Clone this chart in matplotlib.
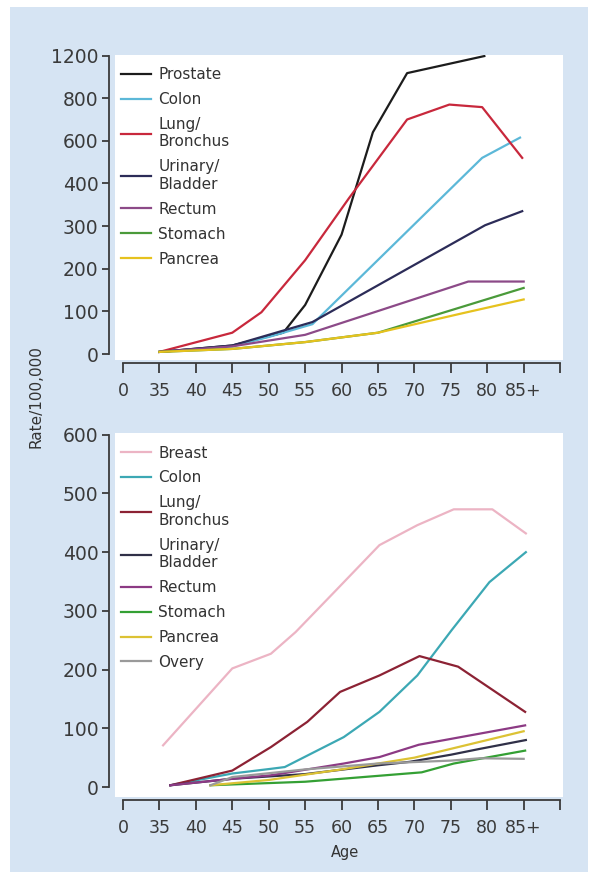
import numpy as np
import matplotlib.pyplot as plt
from matplotlib.patches import Rectangle

plt.rcParams['font.family'] = ['DejaVu Sans']

# ---- data: top panel (men) ----
men_labels = ['Prostate', 'Colon', 'Lung/\nBronchus', 'Urinary/\nBladder', 'Rectum', 'Stomach', 'Pancrea']
men_colors = ['#1c1c1c', '#5cb8d8', '#c8283c', '#2c2c58', '#8c4a88', '#4a9a3a', '#e6c21e']
prostate_age = [35, 45, 52, 55, 60, 64.3, 69, 79.6]
prostate_rate = [5, 20, 50, 115, 280, 640, 1035, 1195]
m_colon_age = [35, 45, 50, 56, 79.3, 84.5]
m_colon_rate = [5, 18, 40, 70, 520, 615]
m_lung_age = [35, 45, 49, 55, 61, 69, 74.8, 79.3, 84.8]
m_lung_rate = [5, 50, 98, 220, 365, 700, 770, 758, 520]
m_bladder_age = [35, 45, 50, 56, 79.7, 84.8]
m_bladder_rate = [5, 20, 45, 75, 302, 335]
m_rectum_age = [35, 45, 55, 77.4, 85]
m_rectum_rate = [5, 18, 45, 170, 170]
m_stomach_age = [35, 45, 55, 65, 85]
m_stomach_rate = [5, 12, 28, 50, 155]
m_pancreas_age = [35, 45, 55, 65, 76.7, 85]
m_pancreas_rate = [5, 12, 28, 50, 96, 128]

# ---- data: bottom panel (women) ----
women_labels = ['Breast', 'Colon', 'Lung/\nBronchus', 'Urinary/\nBladder', 'Rectum', 'Stomach', 'Pancrea', 'Overy']
women_colors = ['#ecb4c4', '#3ca8b4', '#8c2234', '#303048', '#8c3a84', '#34a034', '#dcc234', '#9a9a9a']
breast_age = [35.5, 45, 50.3, 53.7, 59, 65.2, 70.4, 75.4, 80.7, 85.3]
breast_rate = [71, 202, 227, 264, 332, 412, 446, 473, 473, 432]
w_colon_age = [36.5, 45, 50.3, 52.2, 60.3, 65.2, 70.4, 75.1, 80.3, 85.3]
w_colon_rate = [3, 23, 31, 34, 85, 128, 190, 267, 349, 400]
w_lung_age = [36.5, 45, 50.3, 55.3, 59.8, 65.2, 70.7, 76, 85.2]
w_lung_rate = [3, 28, 68, 111, 162, 190, 223, 205, 128]
w_bladder_age = [36.5, 45, 55, 65, 69.4, 75, 79, 85.3]
w_bladder_rate = [3, 14, 22, 37, 43, 55, 65, 80]
w_rectum_age = [36.5, 45, 50.3, 60.3, 65.2, 70.6, 85.2]
w_rectum_rate = [3, 14, 20, 40, 51, 72, 105]
w_stomach_age = [42, 55, 71, 75.4, 85.2]
w_stomach_rate = [3, 9, 25, 40, 62]
w_pancreas_age = [42, 50, 60, 70, 85]
w_pancreas_rate = [3, 12, 30, 50, 95]
ovary_age = [42, 45, 55, 65, 75, 79, 85]
ovary_rate = [3, 17, 30, 40, 45, 49, 48]

age_ticks = [30, 35, 40, 45, 50, 55, 60, 65, 70, 75, 80, 85, 90]
age_ticklabels = ['0', '35', '40', '45', '50', '55', '60', '65', '70', '75', '80', '85+', '']
men_yticks = [0, 100, 200, 300, 400, 600, 800, 1200]
women_yticks = [0, 100, 200, 300, 400, 500, 600]

# uneven scale of the top panel: each tick gets the same space
scale_vals = [-100] + men_yticks + [1600]
scale_pos = list(range(-1, len(men_yticks) + 1))


def fwd(v):
    return np.interp(v, scale_vals, scale_pos)


def inv(p):
    return np.interp(p, scale_pos, scale_vals)


W, H = 595, 876
fig = plt.figure(figsize=(W / 100, H / 100), dpi=100, facecolor='white')
bg = Rectangle((10 / W, 4 / H), 578 / W, 865 / H, transform=fig.transFigure,
               facecolor='#d6e4f3', edgecolor='none', zorder=-10)
fig.patches.append(bg)

ax1 = fig.add_axes([115 / W, 1 - 360 / H, 448 / W, 305 / H])
ax2 = fig.add_axes([115 / W, 1 - 797 / H, 448 / W, 364 / H])

men_series = [(prostate_age, prostate_rate), (m_colon_age, m_colon_rate), (m_lung_age, m_lung_rate),
              (m_bladder_age, m_bladder_rate), (m_rectum_age, m_rectum_rate),
              (m_stomach_age, m_stomach_rate), (m_pancreas_age, m_pancreas_rate)]
women_series = [(breast_age, breast_rate), (w_colon_age, w_colon_rate), (w_lung_age, w_lung_rate),
                (w_bladder_age, w_bladder_rate), (w_rectum_age, w_rectum_rate),
                (w_stomach_age, w_stomach_rate), (w_pancreas_age, w_pancreas_rate),
                (ovary_age, ovary_rate)]

ax1.set_yscale('function', functions=(fwd, inv))
for (a, r), lab, c in zip(men_series, men_labels, men_colors):
    ax1.plot(a, r, color=c, lw=1.6, label=lab)
for (a, r), lab, c in zip(women_series, women_labels, women_colors):
    ax2.plot(a, r, color=c, lw=1.6, label=lab)

ax1.set_ylim(-14, 1205)
ax2.set_ylim(-17, 603)
ax1.set_yticks(men_yticks)
ax1.set_yticklabels([str(v) for v in men_yticks])
ax2.set_yticks(women_yticks)
ax2.set_yticklabels([str(v) for v in women_yticks])

for ax in (ax1, ax2):
    ax.set_facecolor('white')
    ax.set_xlim(28.9, 90.4)
    ax.set_xticks(age_ticks)
    ax.set_xticklabels(age_ticklabels)
    ax.minorticks_off()
    for s in ('top', 'right'):
        ax.spines[s].set_visible(False)
    ax.spines['left'].set_position(('outward', 4))
    ax.spines['bottom'].set_position(('outward', 2.5))
    ax.spines['bottom'].set_bounds(30, 90)
    ax.spines['left'].set_color('#3a3a3a')
    ax.spines['bottom'].set_color('#3a3a3a')
    ax.spines['left'].set_linewidth(1.3)
    ax.spines['bottom'].set_linewidth(1.3)
    ax.tick_params(axis='y', direction='out', length=5, width=1.3, pad=3,
                   labelsize=13.5, colors='#3a3a3a')
    ax.tick_params(axis='x', direction='out', length=7, width=1.3, pad=6,
                   labelsize=12.5, colors='#3a3a3a')
    ax.legend(loc='upper left', bbox_to_anchor=(-0.011, 0.995), frameon=False,
              fontsize=11, handlelength=2.0, handletextpad=0.45, labelspacing=0.65,
              borderaxespad=0.3, labelcolor='#333333')

ax1.spines['left'].set_bounds(0, 1200)
ax2.spines['left'].set_bounds(0, 600)

fig.text(36 / W, 1 - 397 / H, 'Rate/100,000', rotation=90, ha='center', va='center',
         fontsize=11, color='#333333')
fig.text(345 / W, 1 - 853 / H, 'Age', ha='center', va='center', fontsize=10.5, color='#333333')

fig.savefig('out.png', dpi=100, facecolor=fig.get_facecolor())
